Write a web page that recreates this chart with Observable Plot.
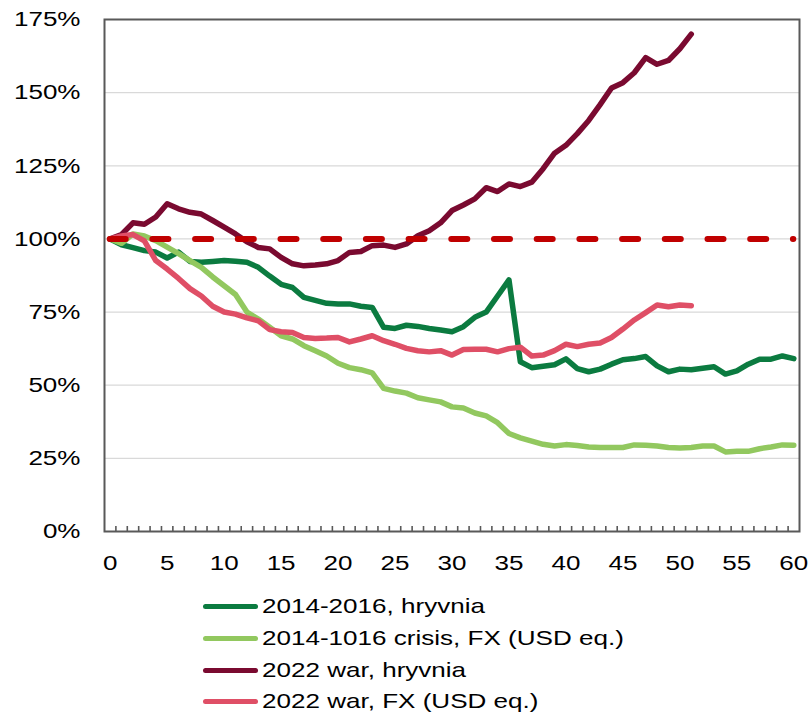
<!DOCTYPE html>
<html>
<head>
<meta charset="utf-8">
<script src="https://cdn.jsdelivr.net/npm/d3@7"></script>
<script src="https://cdn.jsdelivr.net/npm/@observablehq/plot@0.6"></script>
<style>
  body { margin: 0; background: #fff; font-family: "Liberation Sans", Arial, sans-serif; }
  #wrap { position: relative; width: 811px; height: 715px; overflow: hidden; }
  #chart { position: absolute; left: 0; top: 0; }
  .row { position: absolute; left: 203px; height: 30px; display: flex; align-items: center; }
  .sw { width: 55px; height: 5px; border-radius: 3px; margin-right: 4px; flex: none; }
  .lbl { font-size: 21px; line-height: 24px; color: #000; transform: scaleX(1.24); transform-origin: left center; white-space: nowrap; }
</style>
</head>
<body>
<div id="wrap"><div id="chart"></div></div>
<script>
// ---- data ----
const seriesNames = ["2014-2016, hryvnia", "2014-1016 crisis, FX (USD eq.)", "2022 war, hryvnia", "2022 war, FX (USD eq.)"];
const seriesColors = ["#0B7B40", "#92C85F", "#7A0A30", "#DF4F66"];

const hryvnia2014 = [100, 98, 97, 96, 95.5, 93.5, 95.5, 92.3, 92, 92.3,
  92.6, 92.4, 92, 90.3, 87.3, 84.5, 83.4, 80, 79, 78,
  77.8, 77.8, 77, 76.6, 69.8, 69.4, 70.5, 70.1, 69.4, 68.9,
  68.3, 70, 73.2, 75, 80.5, 86, 58, 56, 56.5, 57,
  59, 55.7, 54.6, 55.5, 57.2, 58.7, 59.1, 59.8, 56.6, 54.6,
  55.5, 55.3, 55.8, 56.3, 53.8, 54.9, 57.2, 58.9, 58.9, 60, 59.1];

const fx2014 = [100, 98.5, 101.7, 101, 99.4, 97.2, 95, 92.6, 90.3, 87,
  84, 81, 75, 72.6, 69.8, 66.9, 65.8, 63.5, 61.8, 60,
  57.5, 56, 55.3, 54.2, 48.9, 48, 47.3, 45.7, 45, 44.3,
  42.6, 42.2, 40.5, 39.5, 37.2, 33.5, 32, 30.9, 29.8, 29.2,
  29.7, 29.4, 28.9, 28.7, 28.7, 28.7, 29.6, 29.5, 29.2, 28.7,
  28.5, 28.7, 29.2, 29.2, 27.2, 27.4, 27.4, 28.3, 28.9, 29.6, 29.5];

const hryvnia2022 = [100, 101.5, 105.5, 105, 107.5, 112, 110.3, 109.1, 108.5, 106.3,
  104, 101.7, 99, 97.1, 96.6, 93.7, 91.5, 90.8, 91.1, 91.5,
  92.6, 95.4, 95.7, 97.7, 97.9, 97.1, 98.3, 101.1, 102.8, 105.5,
  109.7, 111.6, 113.7, 117.5, 116.2, 118.8, 117.9, 119.4, 124, 129.3,
  132, 136, 140.5, 145.9, 151.6, 153.4, 156.8, 162, 159.7, 161,
  165, 170];

const fx2022 = [100, 101, 101.5, 99.3, 92.6, 89.7, 86.5, 83, 80.5, 77,
  75, 74.3, 73, 72, 69, 68.3, 68, 66.3, 66, 66.1,
  66.3, 64.8, 65.8, 66.9, 65.2, 64, 62.6, 61.8, 61.4, 61.8,
  60.3, 62.2, 62.3, 62.3, 61.4, 62.5, 63, 60, 60.3, 61.8,
  64, 63.2, 64, 64.4, 66.3, 69.2, 72.3, 74.8, 77.4, 76.8,
  77.4, 77.2];

const parLevel = [100];
const parSpan = [0, 60];
const xTicks = [0, 5, 10, 15, 20, 25, 30, 35, 40, 45, 50, 55, 60];
const yTicks = [0, 25, 50, 75, 100, 125, 150, 175];
const gridTicks = [25, 50, 75, 100, 125, 150];
const categoryBounds = d3.range(0.5, 60, 1);

const allSeries = [hryvnia2014, fx2014, hryvnia2022, fx2022];

// ---- chart ----
const lineMarks = allSeries.map((vals, k) =>
  Plot.line(vals, {x: (d, i) => i, y: d => d, stroke: seriesColors[k], strokeWidth: 5.5,
    strokeLinejoin: "round", strokeLinecap: "round"}));

const chart = Plot.plot({
  width: 811,
  height: 590,
  marginLeft: 104,
  marginRight: 12,
  marginTop: 19,
  marginBottom: 59,
  style: {fontFamily: "'Liberation Sans', Arial, sans-serif", fontSize: "21px", color: "#000", background: "#fff"},
  x: {domain: [-0.5, 60.5]},
  y: {domain: [0, 175]},
  marks: [
    Plot.gridY(gridTicks, {stroke: "#D9D9D9", strokeOpacity: 1, strokeWidth: 1.2}),
    Plot.axisY(yTicks, {tickSize: 0, tickPadding: 24, tickFormat: d => d + "%", fontSize: 21, fill: "#000"}),
    Plot.axisX(xTicks, {tickSize: 0, tickPadding: 24, fontSize: 21, fill: "#000"}),
    Plot.axisX(categoryBounds, {tickSize: 5, dy: -5, fill: "none", stroke: "#595959", strokeWidth: 1.6}),
    ...lineMarks,
    Plot.ruleY(parLevel, {x1: parSpan[0], x2: parSpan[1], stroke: "#C00000", strokeWidth: 6,
      strokeDasharray: "16,26.7", strokeLinecap: "round"}),
    Plot.frame({stroke: "#595959", strokeWidth: 2})
  ]
});

// widen glyphs to match the reference's stretched lettering
d3.select(chart).selectAll("text").each(function() {
  const t = this.getAttribute("transform") || "";
  this.setAttribute("transform", t + " scale(1.24,1)");
});

document.getElementById("chart").appendChild(chart);

// ---- legend ----
const legendCenters = [606, 638, 670, 701];
const wrap = document.getElementById("wrap");
seriesNames.forEach((name, k) => {
  const row = document.createElement("div");
  row.className = "row";
  row.style.top = (legendCenters[k] - 15) + "px";
  const sw = document.createElement("div");
  sw.className = "sw";
  sw.style.background = seriesColors[k];
  const lbl = document.createElement("span");
  lbl.className = "lbl";
  lbl.textContent = name;
  row.appendChild(sw);
  row.appendChild(lbl);
  wrap.appendChild(row);
});
</script>
</body>
</html>
